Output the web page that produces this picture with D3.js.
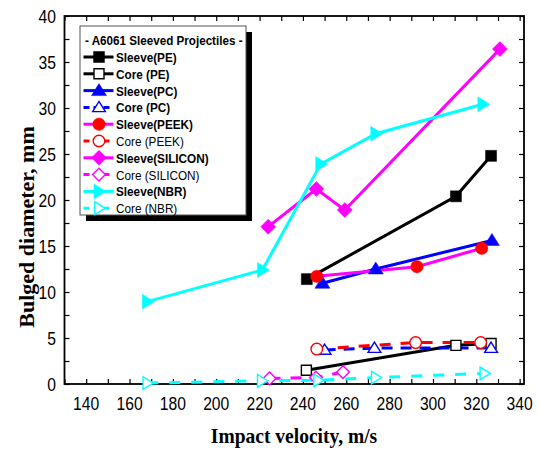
<!DOCTYPE html>
<html><head><meta charset="utf-8">
<script src="https://cdn.jsdelivr.net/npm/d3@7"></script>
<style>body{margin:0;background:#fff}svg{display:block}</style>
</head><body>
<script>
// ---- data ----
const xTickValues = d3.range(130, 341, 10);
const xTickLabels = [140,160,180,200,220,240,260,280,300,320,340];
const yTickValues = d3.range(0, 40.01, 2.5);
const yTickLabels = [0,5,10,15,20,25,30,35,40];

const sleevePE_v = [241.8, 310.6, 326.8];
const sleevePE_d = [11.4, 20.4, 24.8];
const corePE_v = [241.6, 310.6, 326.8];
const corePE_d = [1.5, 4.2, 4.4];
const sleevePC_v = [249, 273.6, 327.2];
const sleevePC_d = [10.95, 12.5, 15.6];
const corePC_v = [250, 273, 326.8];
const corePC_d = [3.7, 3.9, 3.9];
const sleevePEEK_v = [246.4, 292.6, 322.5];
const sleevePEEK_d = [11.7, 12.75, 14.75];
const corePEEK_v = [246.4, 292, 322];
const corePEEK_d = [3.8, 4.5, 4.5];
const sleeveSIL_v = [224, 246.2, 259.3, 330.9];
const sleeveSIL_d = [17.1, 21.2, 18.9, 36.4];
const coreSIL_v = [224.6, 246, 258.5];
const coreSIL_d = [0.6, 0.7, 1.3];
const sleeveNBR_v = [168.2, 221.3, 248.2, 273.6, 323];
const sleeveNBR_d = [8.95, 12.4, 23.9, 27.2, 30.4];
const coreNBR_v = [168.2, 221, 247, 273.6, 323.7];
const coreNBR_d = [0.1, 0.35, 0.4, 0.7, 1.15];

const legendTitle = "- A6061 Sleeved Projectiles -";
const xTitle = "Impact velocity, m/s";
const yTitle = "Bulged diameter, mm";

const series = [
  {name:"Sleeve(PE)", v:sleevePE_v, d:sleevePE_d, line:"#000", mark:"#000", shape:"square", open:false, dash:null, bold:true},
  {name:"Core (PE)", v:corePE_v, d:corePE_d, line:"#000", mark:"#000", shape:"square", open:true, dash:null, bold:true},
  {name:"Sleeve(PC)", v:sleevePC_v, d:sleevePC_d, line:"#0000ff", mark:"#0000ff", shape:"tri", open:false, dash:null, bold:true},
  {name:"Core (PC)", v:corePC_v, d:corePC_d, line:"#0000ff", mark:"#0000ff", shape:"tri", open:true, dash:"11,8", bold:true},
  {name:"Sleeve(PEEK)", v:sleevePEEK_v, d:sleevePEEK_d, line:"#ff00ff", mark:"#ff0000", shape:"circle", open:false, dash:null, bold:true},
  {name:"Core (PEEK)", v:corePEEK_v, d:corePEEK_d, line:"#ff0000", mark:"#ff0000", shape:"circle", open:true, dash:"11,10", bold:false},
  {name:"Sleeve(SILICON)", v:sleeveSIL_v, d:sleeveSIL_d, line:"#ff00ff", mark:"#ff00ff", shape:"diamond", open:false, dash:null, bold:true},
  {name:"Core (SILICON)", v:coreSIL_v, d:coreSIL_d, line:"#ff00ff", mark:"#ff00ff", shape:"diamond", open:true, dash:"11,10", bold:false},
  {name:"Sleeve(NBR)", v:sleeveNBR_v, d:sleeveNBR_d, line:"#00ffff", mark:"#00ffff", shape:"rtri", open:false, dash:null, bold:true},
  {name:"Core (NBR)", v:coreNBR_v, d:coreNBR_d, line:"#00ffff", mark:"#00ffff", shape:"rtri", open:true, dash:"11,11", bold:false}
];

// ---- layout ----
const W = 540, H = 450;
const L = 64.5, R = 524, T = 16, B = 384;
const x = d3.scaleLinear().domain([130, 342]).range([L, R]);
const y = d3.scaleLinear().domain([0, 40]).range([B, T]);
const SX = 0.87;

const svg = d3.select("body").append("svg").attr("width", W).attr("height", H);

function txt(g, px, py, s, o) {
  return g.append("text")
    .attr("transform", `translate(${px},${py}) scale(${o.sx ?? SX},1)`)
    .attr("text-anchor", o.anchor || "start")
    .attr("font-family", o.family || "'Liberation Sans', Arial, sans-serif")
    .attr("font-size", o.size)
    .attr("font-weight", o.weight || "normal")
    .attr("fill", o.fill || "#000")
    .text(s);
}

function shapePath(shape, open) {
  const k = open ? 0.85 : 1;
  if (shape === "tri") return `M0,${-7*k}L${7.5*k},${5*k}L${-7.5*k},${5*k}Z`;
  if (shape === "rtri") return `M${7*k},0L${-5*k},${-7.5*k}L${-5*k},${7.5*k}Z`;
  if (shape === "diamond") return `M0,${-7.5*k}L${7.5*k},0L0,${7.5*k}L${-7.5*k},0Z`;
  if (shape === "square") { const h = open ? 5 : 5.5; return `M${-h},${-h}H${h}V${h}H${-h}Z`; }
  if (shape === "circle") { const r = open ? 5.8 : 6.2; return `M${r},0A${r},${r} 0 1,1 ${-r},0A${r},${r} 0 1,1 ${r},0Z`; }
}

function marker(g, s, px, py) {
  g.append("path")
    .attr("d", shapePath(s.shape, s.open))
    .attr("transform", `translate(${px},${py})`)
    .attr("fill", s.open ? "#fff" : s.mark)
    .attr("stroke", s.mark)
    .attr("stroke-width", s.open ? 1.4 : 0.5);
}

// ---- axes ----
const axG = svg.append("g");
axG.append("g").attr("transform", `translate(0,${B})`)
  .call(d3.axisBottom(x).tickValues(xTickValues).tickSize(-5).tickFormat(""));
axG.append("g").attr("transform", `translate(0,${T})`)
  .call(d3.axisTop(x).tickValues(xTickValues).tickSize(-5).tickFormat(""));
axG.append("g").attr("transform", `translate(${L},0)`)
  .call(d3.axisLeft(y).tickValues(yTickValues).tickSize(-5).tickFormat(""));
axG.append("g").attr("transform", `translate(${R},0)`)
  .call(d3.axisRight(y).tickValues(yTickValues).tickSize(-5).tickFormat(""));
axG.selectAll(".domain").remove();
axG.selectAll(".tick line").attr("stroke", "#000").attr("stroke-width", 1.2);
axG.append("rect").attr("x", L).attr("y", T).attr("width", R - L).attr("height", B - T)
  .attr("fill", "none").attr("stroke", "#000").attr("stroke-width", 1.8);

// tick labels
xTickLabels.forEach(v => txt(svg, x(v), 410, String(v), {size: 18, anchor: "middle"}));
yTickLabels.forEach(v => txt(svg, 56, y(v) + 6.5, String(v), {size: 18, anchor: "end"}));

// titles
txt(svg, 294, 443, xTitle, {size: 21, anchor: "middle", weight: "bold", family: "'Liberation Serif','Times New Roman',serif", sx: 0.93});
svg.append("text")
  .attr("transform", `translate(34,227) rotate(-90)`)
  .attr("text-anchor", "middle")
  .attr("font-family", "'Liberation Serif','Times New Roman',serif")
  .attr("font-weight", "bold").attr("font-size", 22)
  .text(yTitle);

// ---- data lines & markers ----
const plot = svg.append("g");
const lineGen = d3.line().x(p => x(p[0])).y(p => y(p[1]));
series.forEach(s => {
  const pts = s.v.map((v, i) => [v, s.d[i]]);
  plot.append("path").attr("d", lineGen(pts))
    .attr("fill", "none").attr("stroke", s.line).attr("stroke-width", 3)
    .attr("stroke-dasharray", s.dash);
});
series.forEach(s => {
  s.v.forEach((v, i) => marker(plot, s, x(v), y(s.d[i])));
});

// ---- legend ----
const lg = svg.append("g");
lg.append("rect").attr("x", 86).attr("y", 32).attr("width", 166).attr("height", 189).attr("fill", "#000");
lg.append("rect").attr("x", 80).attr("y", 26).attr("width", 166).attr("height", 189)
  .attr("fill", "#fff").attr("stroke", "#555").attr("stroke-width", 1);
txt(lg, 85, 45, legendTitle, {size: 13.4, weight: "bold"});
series.forEach((s, i) => {
  const cy = 57 + i * 16.8;
  lg.append("path").attr("d", `M83.5,${cy}H113.5`)
    .attr("stroke", s.line).attr("stroke-width", 3)
    .attr("stroke-dasharray", s.dash ? "6,4" : null);
  marker(lg, s, 99, cy);
  txt(lg, 116, cy + 5, s.name, {size: 13.5, weight: s.bold ? "bold" : "normal"});
});
</script>
</body></html>
